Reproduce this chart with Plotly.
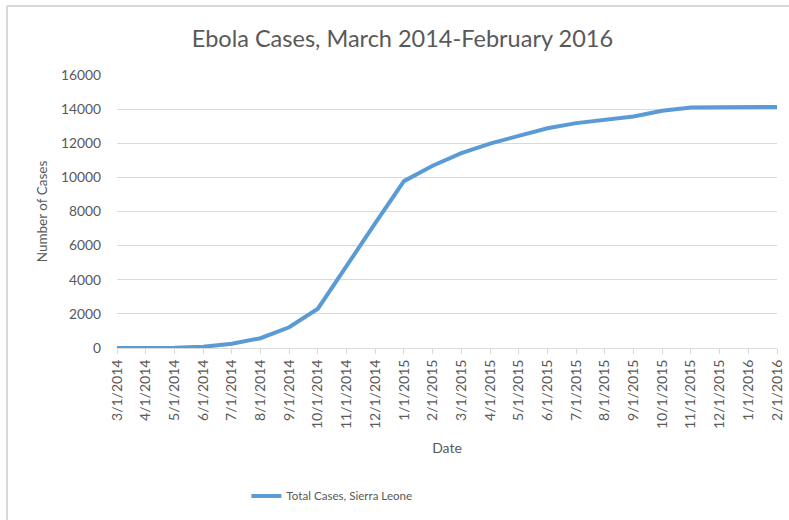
import plotly.graph_objects as go

dates = ["3/1/2014", "4/1/2014", "5/1/2014", "6/1/2014", "7/1/2014", "8/1/2014",
         "9/1/2014", "10/1/2014", "11/1/2014", "12/1/2014", "1/1/2015", "2/1/2015",
         "3/1/2015", "4/1/2015", "5/1/2015", "6/1/2015", "7/1/2015", "8/1/2015",
         "9/1/2015", "10/1/2015", "11/1/2015", "12/1/2015", "1/1/2016", "2/1/2016"]
cases = [0, 0, 16, 70, 252, 574, 1216, 2304, 4759, 7312, 9780, 10680,
         11420, 11980, 12430, 12880, 13180, 13370, 13570, 13900, 14090, 14110, 14120, 14122]
y_ticks = [0, 2000, 4000, 6000, 8000, 10000, 12000, 14000, 16000]

FONT = "Lato"
GREY = "#595959"

fig = go.Figure()
fig.add_trace(go.Scatter(
    x=dates, y=cases, mode="lines", name="Total Cases, Sierra Leone",
    line=dict(color="#5B9BD5", width=4),
))

fig.update_layout(
    width=789, height=520,
    margin=dict(l=117, r=12, t=75, b=172, autoexpand=False),
    paper_bgcolor="white", plot_bgcolor="white",
    font=dict(family=FONT, color=GREY),
    title=dict(text="Ebola Cases, March 2014-February 2016", x=0.51, xanchor="center",
               y=0.925, yanchor="middle", font=dict(size=23.5, color=GREY, family=FONT)),
    showlegend=True,
    legend=dict(orientation="h", x=0.196, xanchor="left", y=-0.542, yanchor="middle",
                font=dict(size=11.6, color=GREY, family=FONT), itemwidth=30),
    xaxis=dict(
        type="category", range=[0, len(dates) - 1], automargin=False,
        showgrid=False, showline=True, linecolor="#D9D9D9", linewidth=1,
        ticks="outside", ticklen=5, tickcolor="#D9D9D9", tickangle=-90,
        tickfont=dict(size=14, color=GREY, family=FONT),
        title=dict(text="Date", font=dict(size=14, color=GREY, family=FONT), standoff=15),
        zeroline=False,
    ),
    yaxis=dict(
        range=[0, 16000], tickvals=y_ticks, ticktext=[str(v) for v in y_ticks],
        automargin=False,
        showgrid=True, gridcolor="#D9D9D9", gridwidth=1, zeroline=False,
        showline=False, ticks="", ticklabelstandoff=15,
        tickfont=dict(size=13.8, color=GREY, family=FONT),
        title=dict(text="Number of Cases", font=dict(size=13.5, color=GREY, family=FONT), standoff=10),
    ),
    shapes=[
        dict(type="line", xref="paper", yref="paper", x0=-0.1667, x1=1.1, y0=1.2527, y1=1.2527,
             line=dict(color="#D9D9D9", width=2)),
        dict(type="line", xref="paper", yref="paper", x0=-0.1667, x1=-0.1667, y0=1.2527, y1=-0.7,
             line=dict(color="#D9D9D9", width=2)),
    ],
)

fig.write_html("out.html")
